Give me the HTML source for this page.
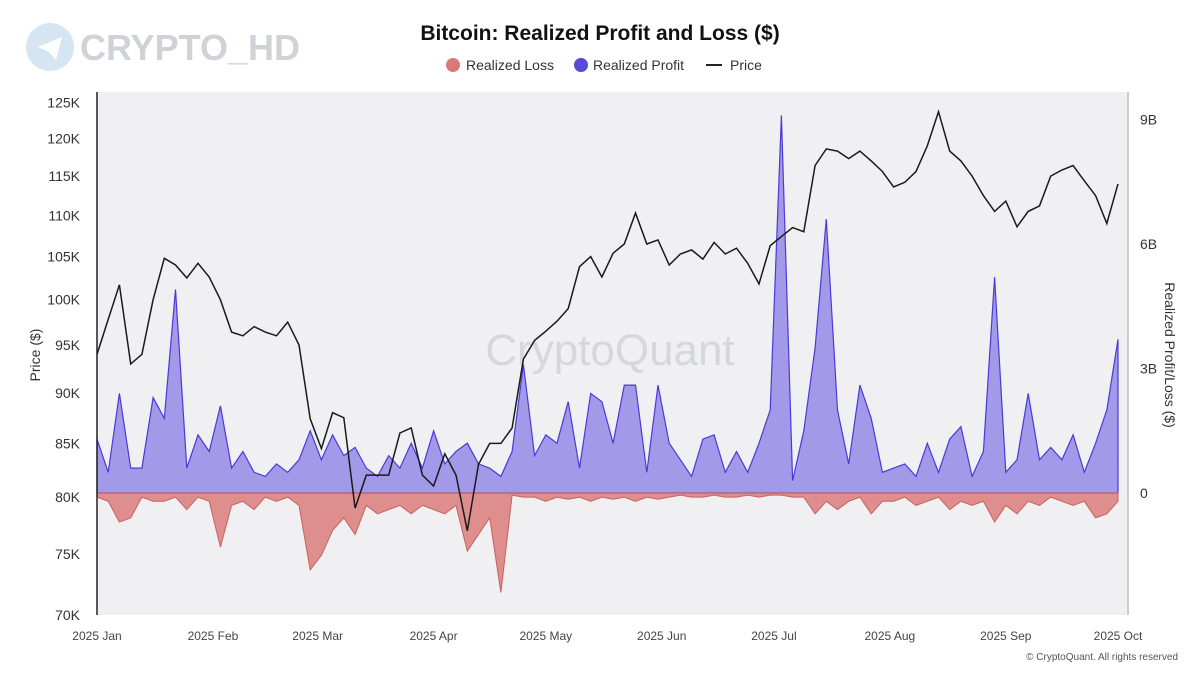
<!DOCTYPE html>
<html><head><meta charset="utf-8"><style>
body{margin:0;background:#fff;font-family:"Liberation Sans",sans-serif}
svg text{font-family:"Liberation Sans",sans-serif}
</style></head><body>
<svg id="c" width="1200" height="672">
<g>
<circle cx="50" cy="47" r="24" fill="#d5e6f2"/>
<path d="M38 47 L62 37 L56 60 L49 52 Z" fill="#fff"/>
<text x="80" y="60" font-size="36" font-weight="bold" fill="#cfd3d8">CRYPTO_HD</text>
</g>
<text x="600" y="40" text-anchor="middle" font-size="21" font-weight="bold" fill="#111">Bitcoin: Realized Profit and Loss ($)</text>
<g>
<g><circle cx="453" cy="65" r="7" fill="#d97a7a"/><text x="466" y="70" font-size="14" fill="#333">Realized Loss</text></g>
<g><circle cx="581" cy="65" r="7" fill="#5a48d8"/><text x="593" y="70" font-size="14" fill="#333">Realized Profit</text></g>
<g><line x1="706" y1="65" x2="722" y2="65" stroke="#222" stroke-width="2"/><text x="730" y="70" font-size="14" fill="#333">Price</text></g>
</g>
<rect x="97" y="92" width="1030" height="523" fill="#f0f0f2"/>
<text x="610" y="365" text-anchor="middle" font-size="44" fill="#d6d7dc">CryptoQuant</text>
<g id="marks"></g>
<line x1="97" y1="92" x2="97" y2="615" stroke="#222" stroke-width="1.5"/>
<line x1="1128" y1="92" x2="1128" y2="615" stroke="#999" stroke-width="1"/>
<g id="axes"></g>
<text transform="translate(40,355) rotate(-90)" text-anchor="middle" font-size="14" fill="#333">Price ($)</text>
<text transform="translate(1165,355) rotate(90)" text-anchor="middle" font-size="14" fill="#333">Realized Profit/Loss ($)</text>
<text x="1178" y="660" text-anchor="end" font-size="10" fill="#555">© CryptoQuant. All rights reserved</text>
</svg>
<script>
const price=[94,97.8,101.7,93,94,100,104.8,104,102.5,104.2,102.6,100,96.4,96,97,96.4,96,97.5,95,87.4,84.5,88,87.5,79,82,82,82,86,86.5,82,81,84,82,77,83,85,85,86.5,93.5,95.5,96.5,97.6,99,103.8,105,102.6,105.4,106.5,110.3,106.5,107,104,105.3,105.8,104.7,106.7,105.3,106,104.2,101.8,106.3,107.4,108.5,108,116.4,118.6,118.3,117.3,118.3,117,115.6,113.6,114.2,115.6,119,123.7,118.3,117,115,112.5,110.5,111.8,108.6,110.5,111.2,115,115.8,116.4,114.4,112.5,109,114];
const profit=[1.3,0.5,2.4,0.6,0.6,2.3,1.8,4.9,0.6,1.4,1.0,2.1,0.6,1.0,0.5,0.4,0.7,0.5,0.8,1.5,0.8,1.4,0.9,1.1,0.6,0.4,0.9,0.6,1.2,0.6,1.5,0.7,1.0,1.2,0.7,0.6,0.4,1.0,3.1,0.9,1.4,1.2,2.2,0.6,2.4,2.2,1.2,2.6,2.6,0.5,2.6,1.2,0.8,0.4,1.3,1.4,0.5,1.0,0.5,1.2,2.0,9.1,0.3,1.5,3.5,6.6,2.0,0.7,2.6,1.8,0.5,0.6,0.7,0.4,1.2,0.5,1.3,1.6,0.4,1.0,5.2,0.5,0.8,2.4,0.8,1.1,0.8,1.4,0.5,1.2,2.0,3.7];
const loss=[-0.1,-0.2,-0.7,-0.6,-0.1,-0.2,-0.2,-0.1,-0.4,-0.1,-0.2,-1.3,-0.3,-0.2,-0.4,-0.1,-0.2,-0.1,-0.3,-1.85,-1.5,-0.9,-0.6,-1.0,-0.3,-0.5,-0.4,-0.3,-0.5,-0.3,-0.4,-0.5,-0.3,-1.4,-1.0,-0.6,-2.4,-0.05,-0.1,-0.1,-0.2,-0.1,-0.15,-0.1,-0.2,-0.1,-0.15,-0.1,-0.2,-0.1,-0.15,-0.1,-0.05,-0.1,-0.1,-0.05,-0.1,-0.1,-0.05,-0.1,-0.05,-0.05,-0.1,-0.1,-0.5,-0.2,-0.4,-0.2,-0.1,-0.5,-0.2,-0.2,-0.1,-0.3,-0.2,-0.1,-0.4,-0.2,-0.3,-0.2,-0.7,-0.3,-0.5,-0.2,-0.3,-0.1,-0.2,-0.3,-0.2,-0.6,-0.5,-0.2];
const priceTicks=[70,75,80,85,90,95,100,105,110,115,120,125];
const plTicks=[0,3,6,9];
const monthLabels=["2025 Jan","2025 Feb","2025 Mar","2025 Apr","2025 May","2025 Jun","2025 Jul","2025 Aug","2025 Sep","2025 Oct"];
const monthDays=[0,31,59,90,120,151,181,212,243,273];
const NS="http://www.w3.org/2000/svg";
const n=price.length;
const xDay=d=>97+d*(1118-97)/273;
const xi=i=>xDay(i*273/(n-1));
const yP=p=>615-884*Math.log(p/70);
const yB=v=>493-41.5*v;
const marks=document.getElementById('marks'),axes=document.getElementById('axes');
function mk(tag,attrs,parent){const e=document.createElementNS(NS,tag);for(const k in attrs)e.setAttribute(k,attrs[k]);parent.appendChild(e);return e;}
function area(vals){let d=`M${xi(0)},${yB(0)}`;vals.forEach((v,i)=>d+=` L${xi(i).toFixed(1)},${yB(v).toFixed(1)}`);d+=` L${xi(n-1)},${yB(0)} Z`;return d;}
function line(vals,f){return vals.map((v,i)=>(i?'L':'M')+xi(i).toFixed(1)+','+f(v).toFixed(1)).join(' ');}
const pa=mk('path',{d:area(profit),fill:'rgba(110,95,225,0.6)',stroke:'#4a3ad8','stroke-width':1.2},marks);


const la=mk('path',{d:area(loss),fill:'rgba(215,100,100,0.7)',stroke:'#c86060','stroke-width':1},marks);


const pl=mk('path',{d:line(price,yP),fill:'none',stroke:'#1a1a1a','stroke-width':1.5},marks);


priceTicks.forEach(t=>{const e=mk('text',{x:80,y:yP(t)+5,'text-anchor':'end','font-size':14,fill:'#333'},axes);e.textContent=t+'K';

});
plTicks.forEach(t=>{const e=mk('text',{x:1140,y:yB(t)+5,'font-size':14,fill:'#333'},axes);e.textContent=t?t+'B':'0';

});
monthLabels.forEach((m,i)=>{const e=mk('text',{x:xDay(monthDays[i]),y:640,'text-anchor':'middle','font-size':12,fill:'#444'},axes);e.textContent=m;

});
</script>
</body></html>
